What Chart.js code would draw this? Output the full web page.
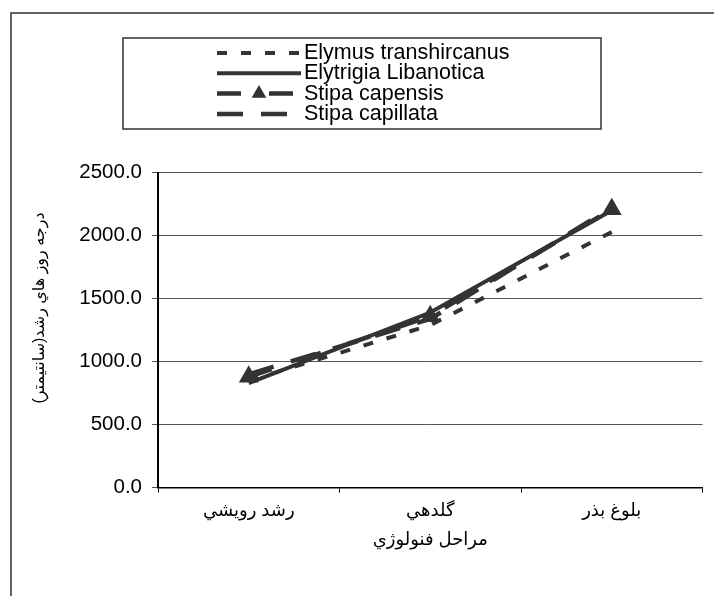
<!DOCTYPE html>
<html><head><meta charset="utf-8">
<script src="https://cdn.jsdelivr.net/npm/chart.js@4/dist/chart.umd.min.js"></script>
<style>html,body{margin:0;padding:0;background:#fff}#wrap{width:714px;height:596px}</style>
</head><body><div id="wrap"><canvas id="c" width="714" height="596"></canvas></div>
<script>
const categories = ['رشد رويشي', 'گلدهي', 'بلوغ بذر'];
const seriesNames = ['Elymus transhircanus', 'Elytrigia Libanotica', 'Stipa capensis', 'Stipa capillata'];
const elymus = [850, 1290, 2030];
const elytrigia = [830, 1390, 2200];
const stipaCapensis = [880, 1360, 2210];
const stipaCapillata = [900, 1340, 2225];
const yTicks = [0, 500, 1000, 1500, 2000, 2500];
const xTitle = 'مراحل فنولوژي';
const yTitle = 'درجه روز هاي رشد(سانتيمتر)';

const FONT = "'Liberation Sans', Arial, 'DejaVu Sans', sans-serif";
const INK = '#333333';

const frame = {
  id: 'frame',
  beforeDraw(chart) {
    const ctx = chart.ctx;
    ctx.save();
    ctx.fillStyle = '#fff';
    ctx.fillRect(0, 0, chart.width, chart.height);
    ctx.strokeStyle = '#333';
    ctx.lineWidth = 1.5;
    ctx.beginPath();
    ctx.moveTo(11, chart.height);
    ctx.lineTo(11, 13);
    ctx.lineTo(chart.width, 13);
    ctx.stroke();
    ctx.restore();
  },
  afterDraw(chart) {
    const ctx = chart.ctx;
    ctx.save();
    ctx.translate(40, 308);
    ctx.rotate(-Math.PI / 2);
    ctx.fillStyle = '#000';
    ctx.font = '16px ' + FONT;
    ctx.textAlign = 'center';
    ctx.textBaseline = 'middle';
    ctx.fillText(yTitle, 0, 0);
    ctx.restore();

    ctx.save();
    const bx = 123, by = 38, bw = 478, bh = 91;
    ctx.fillStyle = '#fff';
    ctx.fillRect(bx, by, bw, bh);
    ctx.strokeStyle = '#333';
    ctx.lineWidth = 1.5;
    ctx.strokeRect(bx, by, bw, bh);
    chart.data.datasets.forEach((ds, i) => {
      const y = 53 + i * 20.3;
      ctx.save();
      ctx.strokeStyle = ds.borderColor;
      ctx.lineWidth = ds.borderWidth;
      ctx.setLineDash(ds.borderDash || []);
      ctx.beginPath();
      ctx.moveTo(217, y);
      ctx.lineTo(301, y);
      ctx.stroke();
      ctx.restore();
      if (ds.pointRadius > 0) {
        ctx.save();
        ctx.fillStyle = ds.pointBackgroundColor;
        ctx.strokeStyle = ds.pointBorderColor;
        Chart.helpers.drawPoint(ctx, {pointStyle: ds.pointStyle, radius: ds.pointRadius, borderWidth: 1, rotation: 0}, 259, y);
        ctx.restore();
      }
      ctx.fillStyle = '#000';
      ctx.font = '21.5px ' + FONT;
      ctx.textAlign = 'left';
      ctx.textBaseline = 'middle';
      ctx.fillText(ds.label, 304, y);
    });
    ctx.restore();
  }
};

function line(label, data, dash, extra) {
  return Object.assign({
    label, data,
    borderColor: INK, backgroundColor: INK,
    borderWidth: 4, borderDash: dash, tension: 0,
    pointRadius: 0, pointHoverRadius: 0, fill: false
  }, extra || {});
}

new Chart(document.getElementById('c'), {
  type: 'line',
  data: {
    labels: categories,
    datasets: [
      line(seriesNames[0], elymus, [10, 14]),
      line(seriesNames[1], elytrigia, []),
      line(seriesNames[2], stipaCapensis, [24, 28], {pointRadius: 7, pointStyle: 'triangle', pointBackgroundColor: INK, pointBorderColor: INK, borderWidth: 4.5}),
      line(seriesNames[3], stipaCapillata, [26, 18], {borderWidth: 4.5})
    ]
  },
  options: {
    responsive: false,
    animation: false,
    devicePixelRatio: 1,
    layout: {padding: {top: 172.7, right: 5, left: 0, bottom: 0}},
    plugins: {legend: {display: false}, tooltip: {enabled: false}},
    scales: {
      x: {
        offset: true,
        grid: {offset: true, drawOnChartArea: false, drawTicks: true, tickLength: 5, color: '#000', lineWidth: 1},
        border: {color: '#000', width: 1.5},
        ticks: {color: '#000', font: {family: FONT, size: 18}, padding: 8},
        title: {display: true, text: xTitle, color: '#000', font: {family: FONT, size: 18}, padding: {top: 0, bottom: 45}},
        afterFit(s) { s.height = 596 - 487.7; }
      },
      y: {
        min: 0, max: 2500,
        afterBuildTicks(s) { s.ticks = yTicks.map(v => ({value: v})); },
        grid: {color: '#555', lineWidth: 1, tickLength: 6, drawTicks: true},
        border: {color: '#000', width: 2},
        ticks: {color: '#000', font: {family: FONT, size: 20.5}, padding: 10, callback: v => Number(v).toFixed(1)},
        afterFit(s) { s.width = 158; }
      }
    }
  },
  plugins: [frame]
});
</script></body></html>
